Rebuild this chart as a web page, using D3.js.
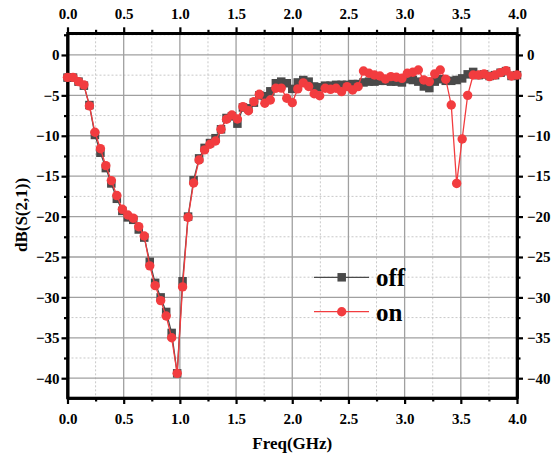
<!DOCTYPE html>
<html>
<head>
<meta charset="utf-8">
<script src="https://cdn.jsdelivr.net/npm/d3@7"></script>
<style>
html,body{margin:0;padding:0;background:#fff;}
svg{display:block;}
text{font-family:"Liberation Serif","Times New Roman",serif;font-weight:bold;}
</style>
</head>
<body>
<svg id="chart" width="555" height="461"></svg>
<script>
// ---- data ----
const freq = [0,0.049,0.098,0.146,0.195,0.244,0.293,0.341,0.390,0.439,0.488,0.537,0.585,0.634,0.683,0.732,0.780,0.829,0.878,0.927,
0.976,1.024,1.073,1.122,1.171,1.220,1.268,1.317,1.366,1.415,1.463,1.512,1.561,1.610,1.659,1.707,1.756,1.805,1.854,1.902,
1.951,2.000,2.049,2.098,2.146,2.195,2.244,2.293,2.341,2.390,2.439,2.488,2.537,2.585,2.634,2.683,2.732,2.780,2.829,2.878,
2.927,2.976,3.024,3.073,3.122,3.171,3.220,3.268,3.317,3.366,3.415,3.463,3.512,3.561,3.610,3.659,3.707,3.756,3.805,3.854,
3.902,3.951,4.000];
const offVals = [-2.8,-2.8,-3.3,-3.8,-6.2,-9.9,-12.1,-14.0,-15.9,-17.8,-19.3,-20.1,-20.4,-21.6,-22.6,-25.6,-28.2,-30.0,-31.8,-34.4,
-39.4,-28.0,-20.0,-15.5,-12.8,-11.5,-10.9,-10.3,-9.2,-7.8,-7.6,-8.5,-6.5,-6.6,-5.9,-5.0,-5.1,-4.5,-3.5,-3.3,
-3.5,-4.2,-3.4,-3.1,-3.3,-3.9,-4.0,-3.8,-3.8,-3.7,-3.7,-3.7,-3.6,-3.6,-3.4,-3.3,-3.3,-3.2,-3.2,-3.3,
-3.3,-3.4,-3.0,-3.1,-3.3,-3.9,-4.1,-3.3,-3.0,-3.2,-3.2,-3.1,-2.9,-2.4,-2.1,-2.5,-2.4,-2.6,-2.5,-2.2,
-2.0,-2.6,-2.5];
const onVals = [-2.77,-2.77,-3.3,-3.7,-6.3,-9.57,-11.6,-13.7,-15.55,-17.4,-19.1,-19.8,-20.2,-21.25,-22.4,-26.1,-28.55,-30.4,-32.3,-35.0,
-39.4,-28.7,-20.1,-15.85,-13.0,-11.75,-11.05,-10.65,-9.2,-7.96,-7.43,-7.92,-6.4,-6.9,-5.78,-4.87,-5.98,-5.57,-4.12,-4.1,
-5.36,-5.9,-4.2,-3.45,-3.9,-4.8,-5.05,-4.12,-4.25,-4.12,-4.54,-3.92,-4.33,-3.92,-1.98,-2.27,-2.48,-2.6,-2.97,-2.68,
-2.76,-2.89,-2.27,-2.14,-1.86,-3.09,-3.3,-2.35,-1.86,-3.0,-6.19,-15.9,-10.4,-5.0,-2.48,-2.48,-2.35,-2.68,-2.48,-2.19,
-1.94,-2.6,-2.48];
const seriesNames = ["off","on"];
const xMajorTicks = [0,0.5,1.0,1.5,2.0,2.5,3.0,3.5,4.0];
const xMinorTicks = [0.25,0.75,1.25,1.75,2.25,2.75,3.25,3.75];
const yMajorTicks = [0,-5,-10,-15,-20,-25,-30,-35,-40];
const yMinorTicks = [2.5,-2.5,-7.5,-12.5,-17.5,-22.5,-27.5,-32.5,-37.5];
const xTitle = "Freq(GHz)";
const yTitle = "dB(S(2,1))";

// ---- layout ----
const L = 67.5, R = 517, T = 33.3, B = 398;
const svg = d3.select("#chart");
const x = d3.scaleLinear().domain([0,4]).range([L,R]);
const y = d3.scaleLinear().domain([-42.45,2.68]).range([B,T]);

const offColor = "#4a4a4a", onColor = "#f23c3f";

// grid
const g = svg.append("g");
g.selectAll(".vmin").data(xMinorTicks).enter().append("line")
  .attr("x1",d=>x(d)).attr("x2",d=>x(d)).attr("y1",T).attr("y2",B)
  .attr("stroke","#c8c8c8").attr("stroke-width",1).attr("stroke-dasharray","2,2");
g.selectAll(".hmin").data(yMinorTicks).enter().append("line")
  .attr("y1",d=>y(d)).attr("y2",d=>y(d)).attr("x1",L).attr("x2",R)
  .attr("stroke","#c8c8c8").attr("stroke-width",1).attr("stroke-dasharray","2,2");
g.selectAll(".vmaj").data(xMajorTicks.slice(1,-1)).enter().append("line")
  .attr("x1",d=>x(d)).attr("x2",d=>x(d)).attr("y1",T).attr("y2",B)
  .attr("stroke","#a0a0a0").attr("stroke-width",1.3);
g.selectAll(".hmaj").data(yMajorTicks).enter().append("line")
  .attr("y1",d=>y(d)).attr("y2",d=>y(d)).attr("x1",L).attr("x2",R)
  .attr("stroke","#a0a0a0").attr("stroke-width",1.3);

// axes
function styleAxis(sel){
  sel.select(".domain").attr("stroke","#000").attr("stroke-width",2.6);
  sel.selectAll(".tick line").attr("stroke","#000").attr("stroke-width",2.2);
  sel.selectAll(".tick text").attr("font-size","15px").attr("fill","#000")
    .attr("font-family","'Liberation Serif','Times New Roman',serif").attr("font-weight","bold");
}
const fx = d3.format(".1f");
const axes = [
  {ax:d3.axisBottom(x), tr:`translate(0,${B})`, pad:9},
  {ax:d3.axisTop(x), tr:`translate(0,${T})`, pad:8},
  {ax:d3.axisLeft(y), tr:`translate(${L},0)`, pad:2},
  {ax:d3.axisRight(y), tr:`translate(${R},0)`, pad:4}
];
axes.forEach((a,i)=>{
  const isX = i<2;
  const mn = svg.append("g").attr("transform",a.tr)
    .call(a.ax.tickValues(isX?xMinorTicks:yMinorTicks).tickSize(3.5).tickSizeOuter(0).tickFormat(""));
  styleAxis(mn);
  const mj = svg.append("g").attr("transform",a.tr)
    .call(a.ax.tickValues(isX?xMajorTicks:yMajorTicks).tickSize(6).tickSizeOuter(0).tickPadding(a.pad)
      .tickFormat(isX?fx:d3.format("d")));
  styleAxis(mj);
});
svg.append("rect").attr("x",L).attr("y",T).attr("width",R-L).attr("height",B-T)
  .attr("fill","none").attr("stroke","#000").attr("stroke-width",2.6);

// titles
svg.append("text").attr("x",(L+R)/2).attr("y",449).attr("text-anchor","middle")
  .attr("font-size","17px").text(xTitle);
svg.append("text").attr("transform","translate(27,215) rotate(-90)").attr("text-anchor","middle")
  .attr("font-size","17px").text(yTitle);

// series
const offData = freq.map((f,i)=>[f,offVals[i]]);
const onData = freq.map((f,i)=>[f,onVals[i]]);
const line = d3.line().x(d=>x(d[0])).y(d=>y(d[1]));
const ms = 8.5;
svg.append("path").datum(offData).attr("d",line).attr("fill","none").attr("stroke",offColor).attr("stroke-width",1.3);
svg.selectAll(".sq").data(offData).enter().append("rect")
  .attr("x",d=>x(d[0])-ms/2).attr("y",d=>y(d[1])-ms/2).attr("width",ms).attr("height",ms).attr("fill",offColor);
svg.append("path").datum(onData).attr("d",line).attr("fill","none").attr("stroke",onColor).attr("stroke-width",1.3);
svg.selectAll(".ci").data(onData).enter().append("circle")
  .attr("cx",d=>x(d[0])).attr("cy",d=>y(d[1])).attr("r",4.7).attr("fill",onColor);

// legend
const leg = svg.append("g");
const legY = [277.3, 311.7];
const colors = [offColor,onColor];
seriesNames.forEach((n,i)=>{
  leg.append("line").attr("x1",314).attr("x2",369).attr("y1",legY[i]).attr("y2",legY[i])
    .attr("stroke",colors[i]).attr("stroke-width",1.3);
  if(i===0) leg.append("rect").attr("x",341.7-ms/2).attr("y",legY[i]-ms/2).attr("width",ms).attr("height",ms).attr("fill",colors[i]);
  else leg.append("circle").attr("cx",341.7).attr("cy",legY[i]).attr("r",4.7).attr("fill",colors[i]);
  leg.append("text").attr("x",376).attr("y",legY[i]+9).attr("font-size","25px").text(n);
});
</script>
</body>
</html>
